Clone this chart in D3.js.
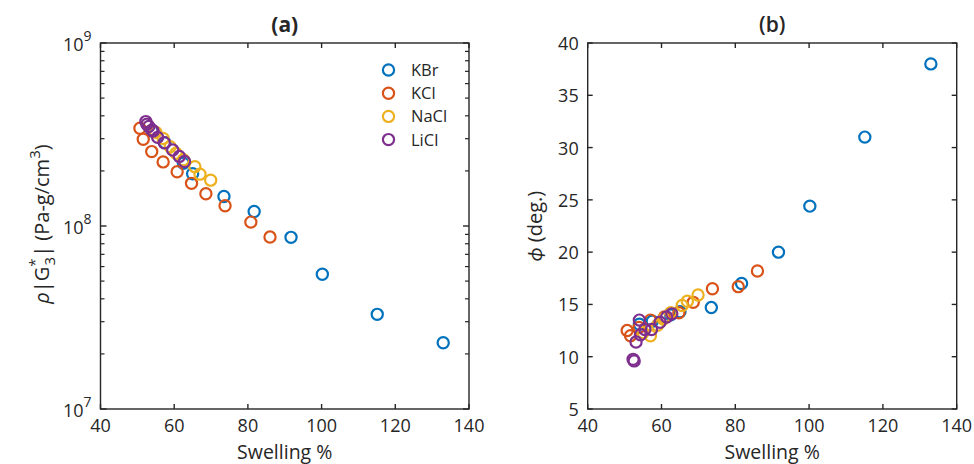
<!DOCTYPE html>
<html>
<head>
<meta charset="utf-8">
<script src="https://cdn.jsdelivr.net/npm/d3@7"></script>
<style>
  html, body { margin: 0; padding: 0; background: #fff; }
  svg text { font-family: "Open Sans", Lato, sans-serif; fill: #262626; }
</style>
</head>
<body>
<svg id="chart" width="974" height="464"></svg>
<script>
// Salt series: swelling (%), rho*|G3*| (Pa-g/cm^3), phase angle phi (deg.)
const salts = ["KBr", "KCl", "NaCl", "LiCl"];
const saltColors = ["#0072BD", "#D95319", "#EDB120", "#7E2F8E"];

const kbrSwelling = [133.0, 115.1, 100.2, 91.7, 81.7, 73.5, 65.0, 62.5, 57.5, 54.0];
const kbrModulus  = [2.30e7, 3.29e7, 5.45e7, 8.67e7, 1.20e8, 1.45e8, 1.93e8, 2.20e8, 2.85e8, 3.30e8];
const kbrPhase    = [38.0, 31.0, 24.4, 20.0, 17.0, 14.7, 14.3, 14.0, 13.4, 13.1];

const kclSwelling = [50.7, 51.6, 53.9, 57.0, 60.8, 64.7, 68.6, 73.8, 80.8, 86.0];
const kclModulus  = [3.42e8, 2.98e8, 2.55e8, 2.24e8, 1.98e8, 1.71e8, 1.50e8, 1.29e8, 1.05e8, 8.70e7];
const kclPhase    = [12.5, 12.0, 12.8, 13.5, 13.8, 14.2, 15.2, 16.5, 16.7, 18.2];

const naclSwelling = [55.0, 57.0, 58.9, 60.5, 62.5, 65.6, 67.0, 69.9];
const naclModulus  = [3.25e8, 3.01e8, 2.71e8, 2.50e8, 2.30e8, 2.11e8, 1.92e8, 1.78e8];
const naclPhase    = [12.3, 12.0, 13.0, 13.6, 14.2, 14.9, 15.3, 15.9];

const liclSwelling = [52.3, 52.6, 53.1, 54.0, 54.3, 55.5, 57.3, 59.6, 61.4, 62.8];
const liclModulus  = [3.72e8, 3.60e8, 3.50e8, 3.35e8, 3.30e8, 3.05e8, 2.85e8, 2.60e8, 2.40e8, 2.25e8];
const liclPhase    = [9.75, 9.6, 11.4, 13.5, 12.1, 12.6, 12.6, 13.3, 13.8, 14.1];

const xTicks = [40, 60, 80, 100, 120, 140];
const modulusTicks = [1e7, 1e8, 1e9];
const phaseTicks = [5, 10, 15, 20, 25, 30, 35, 40];

const series = [
  { name: salts[0], color: saltColors[0], swelling: kbrSwelling,  modulus: kbrModulus,  phase: kbrPhase },
  { name: salts[1], color: saltColors[1], swelling: kclSwelling,  modulus: kclModulus,  phase: kclPhase },
  { name: salts[2], color: saltColors[2], swelling: naclSwelling, modulus: naclModulus, phase: naclPhase },
  { name: salts[3], color: saltColors[3], swelling: liclSwelling, modulus: liclModulus, phase: liclPhase }
];

const svg = d3.select("#chart");
const axisColor = "#262626";
const plotTop = 43, plotBottom = 409;
const markerR = 5.6, markerW = 2.2;
const tickFont = 18, labelFont = 19.5;

function drawFrame(g, x, y, x0, x1) {
  g.append("rect")
    .attr("x", x0).attr("y", plotTop)
    .attr("width", x1 - x0).attr("height", plotBottom - plotTop)
    .attr("fill", "none").attr("stroke", axisColor).attr("stroke-width", 1.4);
  // ticks pointing inward on the top and bottom edges
  xTicks.forEach(t => {
    g.append("line").attr("x1", x(t)).attr("x2", x(t)).attr("y1", plotBottom).attr("y2", plotBottom - 5)
      .attr("stroke", axisColor).attr("stroke-width", 1.4);
    g.append("line").attr("x1", x(t)).attr("x2", x(t)).attr("y1", plotTop).attr("y2", plotTop + 5)
      .attr("stroke", axisColor).attr("stroke-width", 1.4);
    g.append("text").attr("x", x(t)).attr("y", plotBottom + 23)
      .attr("text-anchor", "middle").attr("font-size", tickFont).text(t);
  });
  g.append("text").attr("x", (x0 + x1) / 2).attr("y", 458.5)
    .attr("text-anchor", "middle").attr("font-size", labelFont).text("Swelling %");
}

function drawPoints(g, x, y, key) {
  series.forEach(s => {
    g.append("g").selectAll("circle")
      .data(s.swelling.map((v, i) => [v, s[key][i]]))
      .join("circle")
      .attr("cx", d => x(d[0])).attr("cy", d => y(d[1]))
      .attr("r", markerR)
      .attr("fill", "none").attr("stroke", s.color).attr("stroke-width", markerW);
  });
}

// ---- Panel (a): modulus on a log axis ----
{
  const x0 = 100.5, x1 = 469;
  const x = d3.scaleLinear().domain([40, 140]).range([x0, x1]);
  const y = d3.scaleLog().domain([1e7, 1e9]).range([plotBottom, plotTop]);
  const g = svg.append("g");
  drawPoints(g, x, y, "modulus");
  drawFrame(g, x, y, x0, x1);

  // major and minor ticks on both vertical sides
  const minor = [];
  [1e7, 1e8].forEach(dec => { for (let k = 2; k <= 9; k++) minor.push(dec * k); });
  minor.forEach(t => {
    g.append("line").attr("x1", x0).attr("x2", x0 + 4).attr("y1", y(t)).attr("y2", y(t))
      .attr("stroke", axisColor).attr("stroke-width", 1.2);
    g.append("line").attr("x1", x1).attr("x2", x1 - 4).attr("y1", y(t)).attr("y2", y(t))
      .attr("stroke", axisColor).attr("stroke-width", 1.2);
  });
  modulusTicks.forEach(t => {
    g.append("line").attr("x1", x0).attr("x2", x0 + 6).attr("y1", y(t)).attr("y2", y(t))
      .attr("stroke", axisColor).attr("stroke-width", 1.4);
    g.append("line").attr("x1", x1).attr("x2", x1 - 6).attr("y1", y(t)).attr("y2", y(t))
      .attr("stroke", axisColor).attr("stroke-width", 1.4);
    const lab = g.append("text").attr("x", x0 - 9).attr("y", y(t) + 8)
      .attr("text-anchor", "end").attr("font-size", tickFont);
    lab.append("tspan").text("10");
    lab.append("tspan").attr("font-size", 14).attr("dy", -10).text(Math.round(Math.log10(t)));
  });

  g.append("text").attr("x", (x0 + x1) / 2).attr("y", 32)
    .attr("text-anchor", "middle").attr("font-size", 21).attr("font-weight", "bold").text("(a)");

  const yl = g.append("text").attr("transform", "translate(49,224) rotate(-90)")
    .attr("text-anchor", "middle").attr("font-size", 20);
  yl.append("tspan").attr("font-style", "italic").text("ρ");
  yl.append("tspan").text("|G");
  yl.append("tspan").attr("font-size", 15).attr("dy", -9).text("*");
  yl.append("tspan").attr("font-size", 15).attr("dx", -7).attr("dy", 15).text("3");
  yl.append("tspan").attr("dy", -6).text("| (Pa-g/cm");
  yl.append("tspan").attr("font-size", 15).attr("dy", -9).text("3");
  yl.append("tspan").attr("dy", 9).text(")");

  // legend
  const lg = g.append("g");
  series.forEach((s, i) => {
    const cy = 70 + i * 23.2;
    lg.append("circle").attr("cx", 388.5).attr("cy", cy).attr("r", markerR)
      .attr("fill", "none").attr("stroke", s.color).attr("stroke-width", markerW);
    lg.append("text").attr("x", 411).attr("y", cy + 6).attr("font-size", 16.5).text(s.name);
  });
}

// ---- Panel (b): phase angle ----
{
  const x0 = 587.7, x1 = 956.7;
  const x = d3.scaleLinear().domain([40, 140]).range([x0, x1]);
  const y = d3.scaleLinear().domain([5, 40]).range([plotBottom, plotTop]);
  const g = svg.append("g");
  drawPoints(g, x, y, "phase");
  drawFrame(g, x, y, x0, x1);

  phaseTicks.forEach(t => {
    g.append("line").attr("x1", x0).attr("x2", x0 + 5).attr("y1", y(t)).attr("y2", y(t))
      .attr("stroke", axisColor).attr("stroke-width", 1.4);
    g.append("line").attr("x1", x1).attr("x2", x1 - 5).attr("y1", y(t)).attr("y2", y(t))
      .attr("stroke", axisColor).attr("stroke-width", 1.4);
    g.append("text").attr("x", x0 - 9).attr("y", y(t) + 7)
      .attr("text-anchor", "end").attr("font-size", tickFont).text(t);
  });

  g.append("text").attr("x", (x0 + x1) / 2).attr("y", 32)
    .attr("text-anchor", "middle").attr("font-size", 21).attr("font-weight", "600").text("(b)");

  const yl = g.append("text").attr("transform", "translate(542,226) rotate(-90)")
    .attr("text-anchor", "middle").attr("font-size", 20);
  yl.append("tspan").attr("font-style", "italic").text("ϕ");
  yl.append("tspan").text(" (deg.)");
}
</script>
</body>
</html>
